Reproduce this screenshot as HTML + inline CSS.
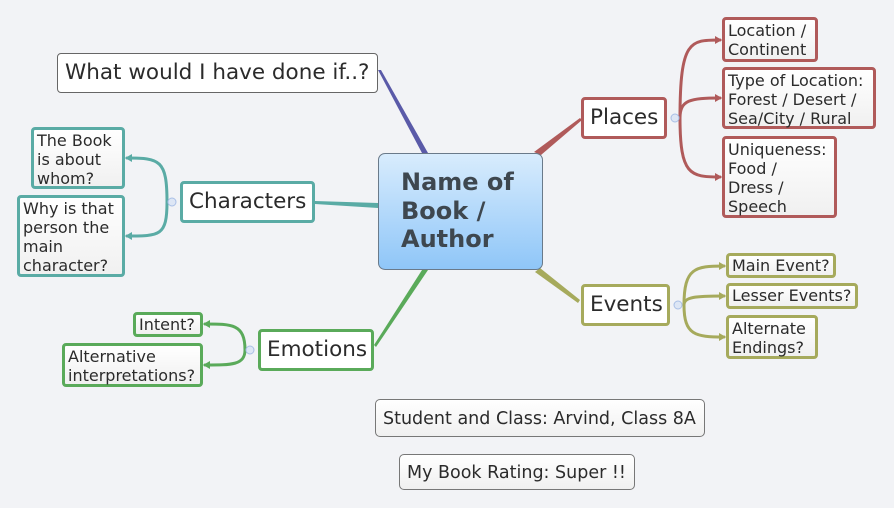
<!DOCTYPE html>
<html><head><meta charset="utf-8"><style>
body{margin:0;width:894px;height:508px;background:#f2f3f6;position:relative;overflow:hidden;font-family:"DejaVu Sans","Liberation Sans",sans-serif;color:#2b2b2b}
.b{position:absolute;box-sizing:border-box;border:3px solid;border-radius:4px;background:linear-gradient(#fff,#f0f0f0);line-height:19px;font-size:16px;padding:1px 3px;white-space:nowrap}
.m{font-size:21.5px;line-height:36px;padding:0 6px;background:#fff}
svg{position:absolute;left:0;top:0}
</style></head><body>
<svg width="894" height="508">
<g fill="none" stroke-linecap="round">
<polygon points="378,70 381,70 428,153 422,153" fill="#5a5aa8"/>
<polygon points="580,118 582,120 541,155 534,152" fill="#b05a5a"/>
<polygon points="580,300 578,303 535,272 540,268" fill="#a6aa5c"/>
<polygon points="315,201 315,204 378,208 378,203" fill="#5aaba5"/>
<polygon points="374,345 376,347 428,270 422,270" fill="#5aaa5a"/>
<g stroke="#b05a5a" stroke-width="3"><path d="M680,118 C680,40 690,40 720,40"/><path d="M680,118 C680,100 690,98 720,98"/><path d="M680,118 C680,175 690,177 720,177"/></g>
<g stroke="#a6aa5c" stroke-width="3"><path d="M684,305 C684,268 695,266 724,266"/><path d="M684,305 C684,297 695,296 724,296"/><path d="M684,305 C684,335 695,337 724,337"/></g>
<g stroke="#5aaba5" stroke-width="3"><path d="M167,202 C167,160 160,158 127,158"/><path d="M167,202 C167,236 160,236 127,236"/></g>
<g stroke="#5aaa5a" stroke-width="3"><path d="M245,350 C245,324 232,324 205,324"/><path d="M245,350 C245,365 232,365 205,365"/></g>
</g>
<g fill="#b05a5a"><path d="M722,40 l-7,-4 v8z"/><path d="M722,98 l-7,-4 v8z"/><path d="M722,177 l-7,-4 v8z"/></g>
<g fill="#a6aa5c"><path d="M726,266 l-7,-4 v8z"/><path d="M726,296 l-7,-4 v8z"/><path d="M726,337 l-7,-4 v8z"/></g>
<g fill="#5aaba5"><path d="M125,158 l7,-4 v8z"/><path d="M125,236 l7,-4 v8z"/></g>
<g fill="#5aaa5a"><path d="M203,324 l7,-4 v8z"/><path d="M203,365 l7,-4 v8z"/></g>
<g fill="#dde6f5" stroke="#a9bfe6"><circle cx="675" cy="118" r="4"/><circle cx="678" cy="305" r="4"/><circle cx="172" cy="202" r="4"/><circle cx="250" cy="350" r="4"/></g>
</svg>
<div class="b m" style="left:57px;top:53px;width:321px;height:40px;border:1px solid #666;line-height:38px;padding-left:7px">What would I have done if..?</div>
<div style="position:absolute;left:378px;top:153px;width:165px;height:117px;box-sizing:border-box;border:1px solid #6a7a8a;border-radius:7px;background:linear-gradient(#d8ecfd,#8fc6f8);font-weight:bold;font-size:24px;line-height:28.5px;color:#3e474f;padding:14px 0 0 22px">Name of<br>Book /<br>Author</div>
<div class="b m" style="left:581px;top:97px;width:86px;height:42px;border-color:#b05a5a">Places</div>
<div class="b" style="left:722px;top:17px;width:96px;height:45px;border-color:#b05a5a">Location /<br>Continent</div>
<div class="b" style="left:722px;top:67px;width:154px;height:62px;border-color:#b05a5a">Type of Location:<br>Forest / Desert /<br>Sea/City / Rural</div>
<div class="b" style="left:722px;top:136px;width:115px;height:82px;border-color:#b05a5a">Uniqueness:<br>Food /<br>Dress /<br>Speech</div>
<div class="b m" style="left:581px;top:284px;width:89px;height:42px;border-color:#a6aa5c">Events</div>
<div class="b" style="left:726px;top:253px;width:110px;height:25px;border-color:#a6aa5c;line-height:17px">Main Event?</div>
<div class="b" style="left:726px;top:283px;width:132px;height:26px;border-color:#a6aa5c;line-height:18px">Lesser Events?</div>
<div class="b" style="left:726px;top:315px;width:92px;height:44px;border-color:#a6aa5c">Alternate<br>Endings?</div>
<div class="b m" style="left:180px;top:181px;width:135px;height:42px;border-color:#5aaba5">Characters</div>
<div class="b" style="left:31px;top:127px;width:94px;height:62px;border-color:#5aaba5">The Book<br>is about<br>whom?</div>
<div class="b" style="left:17px;top:195px;width:108px;height:82px;border-color:#5aaba5">Why is that<br>person the<br>main<br>character?</div>
<div class="b m" style="left:258px;top:329px;width:116px;height:42px;border-color:#5aaa5a">Emotions</div>
<div class="b" style="left:133px;top:312px;width:70px;height:25px;border-color:#5aaa5a;line-height:17px">Intent?</div>
<div class="b" style="left:62px;top:343px;width:141px;height:44px;border-color:#5aaa5a">Alternative<br>interpretations?</div>
<div class="b" style="left:375px;top:399px;width:330px;height:38px;border:1px solid #777;font-size:17.5px;line-height:36px;padding-left:7px;border-radius:5px">Student and Class: Arvind, Class 8A</div>
<div class="b" style="left:399px;top:454px;width:236px;height:36px;border:1px solid #777;font-size:17.5px;line-height:34px;padding-left:7px;border-radius:5px">My Book Rating: Super !!</div>
</body></html>
